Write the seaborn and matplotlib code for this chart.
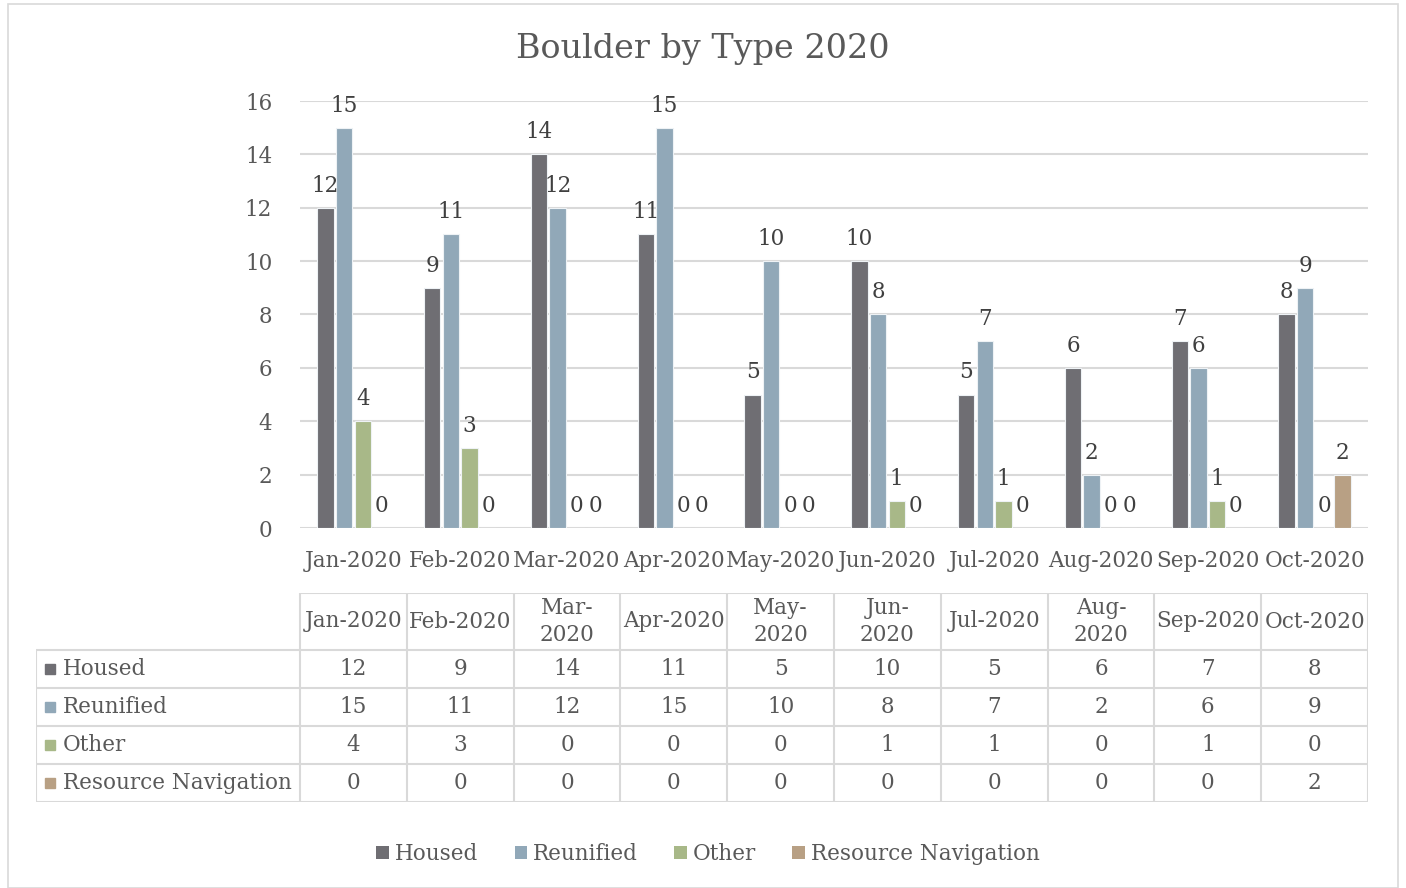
# Boulder by Type 2020 - grouped bar chart with a data table underneath
import pandas as pd
import matplotlib.pyplot as plt
import matplotlib.patches as patches
import seaborn as sns

sns.set_theme(style="white")
plt.rcParams['font.family'] = ['DejaVu Serif']

# ---------------------- Data ----------------------
months = ["Jan-2020", "Feb-2020", "Mar-2020", "Apr-2020", "May-2020",
          "Jun-2020", "Jul-2020", "Aug-2020", "Sep-2020", "Oct-2020"]
table_headers = ["Jan-2020", "Feb-2020", "Mar-\n2020", "Apr-2020", "May-\n2020",
                 "Jun-\n2020", "Jul-2020", "Aug-\n2020", "Sep-2020", "Oct-2020"]
housed = [12, 9, 14, 11, 5, 10, 5, 6, 7, 8]
reunified = [15, 11, 12, 15, 10, 8, 7, 2, 6, 9]
other = [4, 3, 0, 0, 0, 1, 1, 0, 1, 0]
resource_nav = [0, 0, 0, 0, 0, 0, 0, 0, 0, 2]
types = ["Housed", "Reunified", "Other", "Resource Navigation"]
colors = ["#6F6E73", "#91A8B8", "#A8B888", "#B8A084"]

series = [housed, reunified, other, resource_nav]
df = pd.DataFrame({
    "month": [m for s in series for m in months],
    "type": [t for t, s in zip(types, series) for _ in s],
    "value": [v for s in series for v in s],
})

W, H = 1406, 888
text_col = "#595959"
grid_col = "#D9D9D9"
fs = 15.5

fig = plt.figure(figsize=(W / 100, H / 100), dpi=100)

# outer chart border
fig.add_artist(patches.Rectangle((8 / W, 0), (1398 - 8) / W, 1 - 4 / H,
                                 transform=fig.transFigure, fill=False,
                                 edgecolor=grid_col, lw=1.2))

# ---------------------- Bars ----------------------
ax = fig.add_axes([300 / W, 1 - 528 / H, (1368 - 300) / W, (528 - 101) / H])
sns.barplot(data=df, x="month", y="value", hue="type", order=months,
            hue_order=types, palette=colors, saturation=1, width=0.7, gap=0.12,
            edgecolor="#EEF2F5", linewidth=0.8, ax=ax, zorder=3)
for c in ax.containers:
    ax.bar_label(c, padding=8, fontsize=fs, color="#404040")

ax.set_xlim(-0.5, 9.5)
ax.set_ylim(0, 16)
ax.set_yticks(range(0, 17, 2))
ax.yaxis.grid(True, color=grid_col, lw=1.5, zorder=0)
ax.set_axisbelow(True)
for s in ax.spines.values():
    s.set_visible(False)
ax.set_xlabel("")
ax.set_ylabel("")
ax.tick_params(axis="y", length=0, pad=20, labelsize=fs, labelcolor=text_col)
ax.tick_params(axis="x", length=0, pad=16, labelsize=fs, labelcolor=text_col)
ax.get_legend().remove()

fig.text(703 / W, 1 - 49 / H, "Boulder by Type 2020", ha="center", va="center",
         fontsize=24, color=text_col)

# ---------------------- Data table ----------------------
px = (1368 - 300) / 10.0
left = -0.5 - (300 - 36) / px
tax = fig.add_axes([36 / W, 1 - 802 / H, (1368 - 36) / W, (802 - 593) / H])
tax.set_xlim(left, 9.5)
tax.set_ylim(209, 0)
tax.axis("off")
rows = [0, 57, 95, 133, 171, 209]

tax.hlines(0, -0.5, 9.5, color=grid_col, lw=1.5)
for y in rows[1:]:
    tax.hlines(y, left, 9.5, color=grid_col, lw=1.5)
for i in range(11):
    tax.vlines(i - 0.5, 0, 209, color=grid_col, lw=1.5)
tax.vlines(left, 57, 209, color=grid_col, lw=1.5)

for i, h in enumerate(table_headers):
    tax.text(i, 28.5, h, ha="center", va="center", fontsize=fs,
             color=text_col, linespacing=1.3)

for r, (t, s, col) in enumerate(zip(types, series, colors)):
    yc = (rows[r + 1] + rows[r + 2]) / 2
    tax.plot(left + 14 / px, yc, marker="s", markersize=7.5, color=col,
             clip_on=False)
    tax.text(left + 27 / px, yc, t, ha="left", va="center", fontsize=fs,
             color=text_col)
    for i, v in enumerate(s):
        tax.text(i, yc, str(v), ha="center", va="center", fontsize=fs,
                 color=text_col)

# ---------------------- Legend ----------------------
handles = [patches.Patch(facecolor=c, edgecolor="none") for c in colors]
fig.legend(handles, types, loc="center", bbox_to_anchor=(708 / W, 1 - 854 / H),
           ncol=4, frameon=False, fontsize=fs, handlelength=0.6,
           handleheight=0.6, handletextpad=0.25, columnspacing=1.7,
           labelcolor=text_col)

fig.savefig("out.png", dpi=100)
